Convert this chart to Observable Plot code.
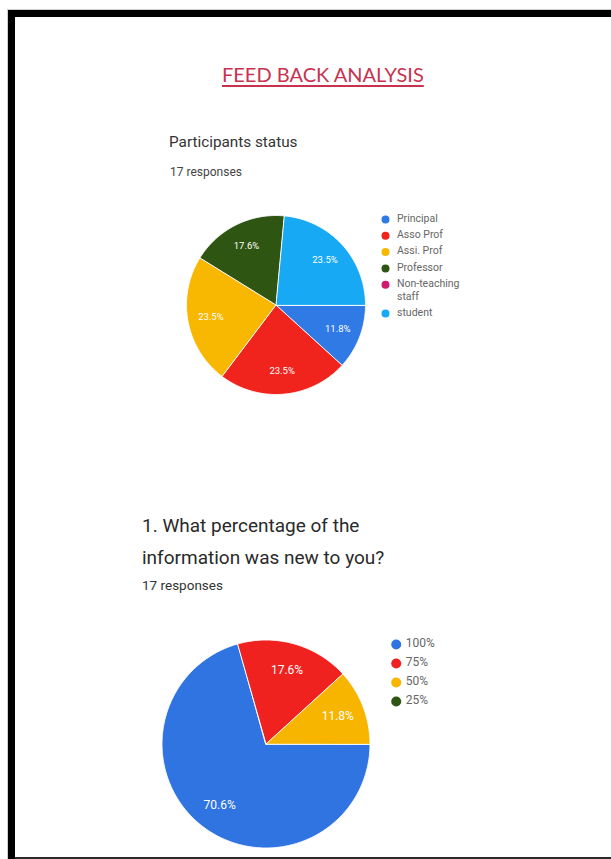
<!DOCTYPE html>
<html><head><meta charset="utf-8">
<script src="https://cdn.jsdelivr.net/npm/d3@7"></script>
<script src="https://cdn.jsdelivr.net/npm/@observablehq/plot@0.6"></script>
<style>
html,body{margin:0;padding:0;background:#fff;}
body{width:611px;height:859px;position:relative;overflow:hidden;font-family:Roboto,"Noto Sans",sans-serif;}
.abs{position:absolute;white-space:nowrap;}
.rob{line-height:1.172;}
</style></head><body>
<div class="abs" style="left:7px;top:9px;width:604px;height:1px;background:#cfcfcf"></div>
<div class="abs" style="left:7px;top:9px;width:1px;height:850px;background:#cfcfcf"></div>
<div class="abs" style="left:8px;top:10px;width:603px;height:7px;background:#000"></div>
<div class="abs" style="left:8px;top:10px;width:7px;height:849px;background:#000"></div>
<div class="abs" style="left:15px;top:857px;width:596px;height:2px;background:#2b2b2b"></div>

<div class="abs" id="title" style="left:222px;top:62px;font-family:Lato,sans-serif;font-size:20px;line-height:1.2;color:#c8324f;text-decoration:underline;text-underline-offset:3px;">FEED BACK ANALYSIS</div>

<div class="abs rob" style="left:169px;top:134px;font-size:15.3px;color:#333;">Participants status</div>
<div class="abs rob" style="left:170px;top:165px;font-size:12px;color:#444;">17 responses</div>
<div id="c1" class="abs" style="left:170px;top:200px"></div>

<div class="abs rob" style="left:142px;top:515px;font-size:19px;color:#2a2a2a;">1. What percentage of the</div>
<div class="abs rob" style="left:142px;top:547px;font-size:19px;color:#2a2a2a;">information was new to you?</div>
<div class="abs rob" style="left:142px;top:578px;font-size:13.5px;color:#333;">17 responses</div>
<div id="c2" class="abs" style="left:150px;top:630px"></div>

<script>
// ---- data ----
const statusLabels = ["Principal", "Asso Prof", "Assi. Prof", "Professor", "Non-teaching staff", "student"];
const statusLegendText = ["Principal", "Asso Prof", "Assi. Prof", "Professor", "Non-teaching\nstaff", "student"];
const statusCounts = [2, 4, 4, 3, 0, 4];

const newLabels = ["100%", "75%", "50%", "25%"];
const newCounts = [12, 3, 2, 0];

// ---- styles ----
const statusColors = ["#2f7ae5", "#f0231d", "#f8b700", "#2f5513", "#d0186e", "#17a9f3"];
const newColors = ["#2f74e0", "#f0221f", "#f7b500", "#2f5513"];

function pieChart(o) {
  const {labels, legendText, counts, colors, width, height, cx, cy, r, labelFrac, labelSize,
         legendX, legendY, legendRowH, legendLineH, legendR, legendSize, textGap} = o;
  const total = d3.sum(counts);
  const rows = labels.map((label, i) => ({label, count: counts[i], text: legendText[i]}));
  const arcs = d3.pie().value(d => d.count).sort(null)
    .startAngle(Math.PI / 2).endAngle(Math.PI / 2 + 2 * Math.PI)(rows);
  const poly = [];
  for (const a of arcs) {
    if (a.data.count === 0) continue;
    const key = a.data.label;
    poly.push({key, x: cx, y: cy});
    const n = Math.max(2, Math.ceil((a.endAngle - a.startAngle) / (Math.PI / 360)));
    for (let k = 0; k <= n; k++) {
      const t = a.startAngle + (a.endAngle - a.startAngle) * k / n;
      poly.push({key, x: cx + r * Math.sin(t), y: cy - r * Math.cos(t)});
    }
  }
  const lbls = arcs.filter(a => a.data.count > 0).map(a => {
    const m = (a.startAngle + a.endAngle) / 2;
    return {text: d3.format(".1f")(a.data.count / total * 100) + "%",
            x: cx + r * labelFrac * Math.sin(m), y: cy - r * labelFrac * Math.cos(m)};
  });
  let yy = legendY;
  const leg = rows.map(d => {
    const nl = d.text.split("\n").length;
    const e = {label: d.label, text: d.text, x: legendX, y: yy};
    yy += legendRowH + (nl - 1) * legendLineH;
    return e;
  });
  return Plot.plot({
    width, height, margin: 0,
    style: {fontFamily: "Roboto, sans-serif", background: "transparent", overflow: "visible"},
    x: {domain: [0, width], range: [0, width], axis: null},
    y: {domain: [0, height], range: [0, height], axis: null},
    color: {domain: labels, range: colors},
    marks: [
      Plot.line(poly, {x: "x", y: "y", z: "key", fill: "key", stroke: "#fff", strokeWidth: 1, curve: "linear-closed"}),
      Plot.text(lbls, {x: "x", y: "y", text: "text", fill: "#fff", fontSize: labelSize}),
      Plot.dot(leg, {x: "x", y: "y", r: legendR, fill: "label", stroke: null}),
      Plot.text(leg, {x: d => d.x + textGap, y: "y", text: "text", textAnchor: "start", lineAnchor: "top",
                      dy: -legendSize * 0.62, lineHeight: legendLineH / legendSize, fontSize: legendSize, fill: "#666"})
    ]
  });
}

document.getElementById("c1").appendChild(pieChart({
  labels: statusLabels, legendText: statusLegendText, counts: statusCounts, colors: statusColors,
  width: 310, height: 200, cx: 105.5, cy: 104.5, r: 89.5, labelFrac: 0.74, labelSize: 9.5,
  legendX: 215, legendY: 19, legendRowH: 16.3, legendLineH: 12.5, legendR: 4, legendSize: 10.5, textGap: 11.5
}));

document.getElementById("c2").appendChild(pieChart({
  labels: newLabels, legendText: newLabels, counts: newCounts, colors: newColors,
  width: 320, height: 226, cx: 115.5, cy: 113.5, r: 104, labelFrac: 0.74, labelSize: 12,
  legendX: 245.7, legendY: 14, legendRowH: 19, legendLineH: 14, legendR: 5, legendSize: 12, textGap: 9.5
}));
</script>
</body></html>
